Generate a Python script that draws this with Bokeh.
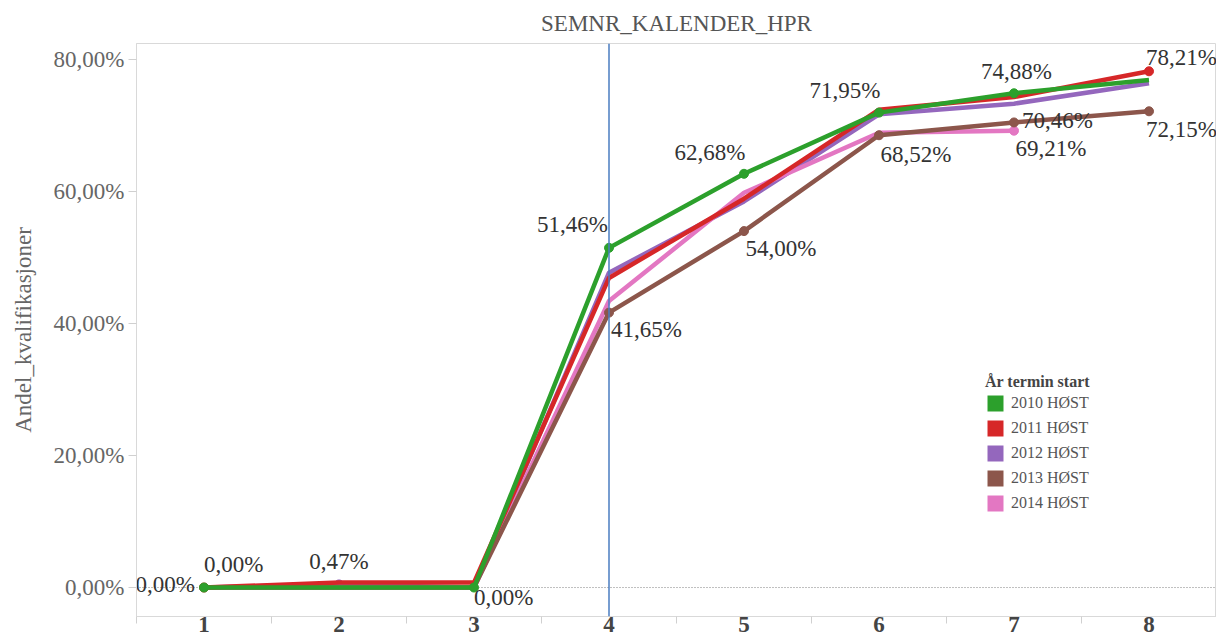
from bokeh.plotting import figure
from bokeh.models import Range1d, FixedTicker, Span, Legend, LegendItem, ColumnDataSource
from bokeh.core.properties import value
from bokeh.embed import file_html
from bokeh.resources import INLINE

# ---------------- data ----------------
categories = [1, 2, 3, 4, 5, 6, 7, 8]
x_tick_labels = ["1", "2", "3", "4", "5", "6", "7", "8"]
y_ticks = [0, 20, 40, 60, 80]
y_tick_labels = ["0,00%", "20,00%", "40,00%", "60,00%", "80,00%"]

series_names = ["2010 HØST", "2011 HØST", "2012 HØST", "2013 HØST", "2014 HØST"]
v2010 = [0.00, 0.00, 0.00, 51.46, 62.68, 71.95, 74.88, 76.90]
v2011 = [0.00, 0.75, 0.75, 46.90, 58.90, 72.40, 74.30, 78.21]
v2012 = [0.00, 0.47, 0.00, 47.70, 58.50, 71.70, 73.30, 76.40]
v2013 = [0.00, 0.00, 0.00, 41.65, 54.00, 68.52, 70.46, 72.15]
v2014 = [0.00, 0.00, 0.00, 43.40, 59.80, 68.90, 69.21]

title_text = "SEMNR_KALENDER_HPR"
y_title = "Andel_kvalifikasjoner"
legend_title = "År termin start"
blue_marker_category = 4

# ---------------- styles ----------------
FONT = "Liberation Serif"
colors = {"2010 HØST": "#2ca02c", "2011 HØST": "#d62728", "2012 HØST": "#9467bd",
          "2013 HØST": "#8c564b", "2014 HØST": "#e377c2"}
values = {"2010 HØST": v2010, "2011 HØST": v2011, "2012 HØST": v2012,
          "2013 HØST": v2013, "2014 HØST": v2014}
draw_order = ["2012 HØST", "2014 HØST", "2013 HØST", "2011 HØST", "2010 HØST"]

p = figure(width=1216, height=642, output_backend="svg", toolbar_location=None,
           x_range=Range1d(0.5, 8.5), y_range=Range1d(-4.39, 82.42),
           min_border_left=136, min_border_right=0, min_border_top=42, min_border_bottom=26,
           background_fill_color="white", border_fill_color="white")

p.title.text = title_text
p.title.align = "center"
p.title.text_font = FONT
p.title.text_font_size = "23px"
p.title.text_font_style = "normal"
p.title.text_color = "#555555"
p.title.standoff = 16

p.xgrid.visible = False
p.ygrid.visible = False
p.outline_line_color = "#d9d9d9"

xa = p.xaxis[0]
xa.ticker = FixedTicker(ticks=categories,
                        minor_ticks=[c - 0.5 for c in categories] + [categories[-1] + 0.5])
xa.major_label_overrides = dict(zip(categories, x_tick_labels))
xa.major_tick_out = 0
xa.major_tick_in = 0
xa.minor_tick_out = 7
xa.minor_tick_in = 0
xa.minor_tick_line_color = "#d0d0d0"
xa.axis_line_color = "#d9d9d9"
xa.major_label_text_font = FONT
xa.major_label_text_font_size = "23px"
xa.major_label_text_font_style = "bold"
xa.major_label_text_color = "#444444"
xa.major_label_standoff = -7

ya = p.yaxis[0]
ya.ticker = FixedTicker(ticks=y_ticks)
ya.major_label_overrides = dict(zip(y_ticks, y_tick_labels))
ya.major_tick_out = 8
ya.major_tick_in = 0
ya.major_tick_line_color = "#d0d0d0"
ya.axis_line_color = "#d9d9d9"
ya.major_label_text_font = FONT
ya.major_label_text_font_size = "23px"
ya.major_label_text_color = "#666666"
ya.major_label_standoff = 4
ya.axis_label = y_title
ya.axis_label_text_font = FONT
ya.axis_label_text_font_size = "23px"
ya.axis_label_text_font_style = "normal"
ya.axis_label_text_color = "#666666"
ya.axis_label_standoff = 15

p.add_layout(Span(location=0, dimension="width", line_color="#7f7f7f",
                  line_dash="1 2", line_width=1, level="underlay"))

# data labels: (series, category index, align, x offset, y offset)
label_spec = [
    ("2010 HØST", 0, "right", -9, -3),
    ("2011 HØST", 0, "left", 0, -23),
    ("2012 HØST", 1, "center", 0, -23),
    ("2010 HØST", 2, "left", 0, 10),
    ("2010 HØST", 3, "right", -1, -23),
    ("2013 HØST", 3, "left", 2, 17),
    ("2010 HØST", 4, "right", 1.5, -21),
    ("2013 HØST", 4, "left", 1.5, 17),
    ("2010 HØST", 5, "right", 1.5, -22),
    ("2013 HØST", 5, "left", 1.5, 19),
    ("2010 HØST", 6, "center", 2.5, -22),
    ("2013 HØST", 6, "left", 8, -2),
    ("2014 HØST", 6, "left", 1.5, 18),
    ("2011 HØST", 7, "left", -3, -14),
    ("2013 HØST", 7, "left", -3, 18),
]

for name in draw_order:
    vals = values[name]
    p.line(categories[:len(vals)], vals, line_color=colors[name], line_width=4.5,
           line_join="round")
    idx = [i for (s, i, *_rest) in label_spec if s == name]
    p.scatter([categories[i] for i in idx], [vals[i] for i in idx], size=9,
              fill_color=colors[name], line_color=colors[name], marker="circle")

p.add_layout(Span(location=blue_marker_category, dimension="height",
                  line_color="#4a7cc0", line_width=1.5))

lx, ly, lt, la, lxo, lyo = [], [], [], [], [], []
for name, i, align, xo, yo in label_spec:
    v = values[name][i]
    lx.append(categories[i])
    ly.append(v)
    lt.append(("%.2f" % v).replace(".", ",") + "%")
    la.append(align)
    lxo.append(xo)
    lyo.append(yo)

tsrc = ColumnDataSource(dict(x=lx, y=ly, t=lt, a=la, xo=lxo, yo=lyo))
p.text("x", "y", text="t", source=tsrc, text_align="a", text_baseline="alphabetic",
       x_offset="xo", y_offset="yo", text_font=value(FONT), text_font_size="23px",
       text_color="#333333")

# legend swatches: zero-area quads at each series' first point (only the legend shows them)
items = []
for name in series_names:
    vals = values[name]
    r = p.quad(left=[categories[0]], right=[categories[0]], top=[vals[0]], bottom=[vals[0]],
               fill_color=colors[name], line_color=None)
    items.append(LegendItem(label=name, renderers=[r]))

legend = Legend(items=items, location=(849, 103), title=legend_title,
                title_text_font=FONT, title_text_font_size="16px", title_text_font_style="bold",
                title_text_color="#444444", title_standoff=2,
                label_text_font=FONT, label_text_font_size="16px", label_text_color="#555555",
                glyph_width=20, glyph_height=20, label_height=20, spacing=5, padding=0,
                margin=0, label_standoff=6, border_line_color=None, background_fill_alpha=0)
p.add_layout(legend)

open("out.html", "w").write(file_html(p, INLINE))
